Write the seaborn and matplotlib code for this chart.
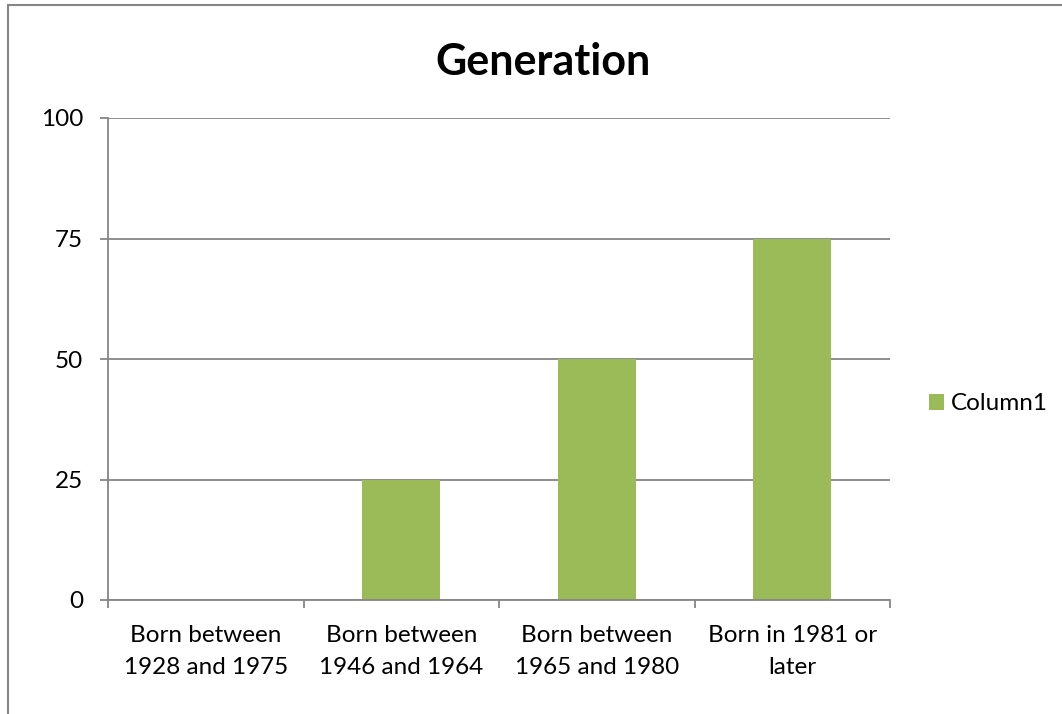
import matplotlib
matplotlib.use("Agg")
import matplotlib.pyplot as plt
import matplotlib.lines as mlines
import seaborn as sns
import pandas as pd

categories = ["Born between\n1928 and 1975", "Born between\n1946 and 1964",
              "Born between\n1965 and 1980", "Born in 1981 or\nlater"]
values = [0, 25, 50, 75]
series_name = "Column1"
y_ticks = [0, 25, 50, 75, 100]
title = "Generation"

sns.set_theme(style="white")
plt.rcParams['font.family'] = ['Lato', 'DejaVu Sans']
plt.rcParams['text.color'] = 'black'
plt.rcParams['xtick.color'] = 'black'
plt.rcParams['ytick.color'] = 'black'

fig = plt.figure(figsize=(10.62, 7.14), dpi=100)
W, H = 1062, 714
ax = fig.add_axes([108 / W, (H - 600) / H, (890 - 108) / W, (600 - 118) / H])

df = pd.DataFrame({"cat": categories, "val": values})
sns.barplot(data=df, x="cat", y="val", color="#9BBB59", width=0.4,
            saturation=1, label=series_name, linewidth=0, edgecolor="none", ax=ax)

grey = "#868686"
fs = 17.5
ax.set_ylim(0, 100)
ax.set_xlim(-0.5, 3.5)
ax.set_yticks(y_ticks)
ax.yaxis.grid(True, color=grey, linewidth=1.3)
ax.set_axisbelow(True)
for s in ["top", "right"]:
    ax.spines[s].set_visible(False)
for s in ["left", "bottom"]:
    ax.spines[s].set_color(grey)
    ax.spines[s].set_linewidth(1.3)
ax.tick_params(axis="y", length=5.8, color=grey, width=1.3, labelsize=fs, pad=12, left=True,
               labelcolor="black")
ax.tick_params(axis="x", which="major", length=0, labelsize=fs, pad=18, labelcolor="black")
ax.set_xticks([-0.5, 0.5, 1.5, 2.5, 3.5], minor=True)
ax.tick_params(axis="x", which="minor", length=5.8, color=grey, width=1.3, bottom=True)
ax.set_xlabel("")
ax.set_ylabel("")
for lbl in ax.get_xticklabels():
    lbl.set_multialignment("center")
    lbl.set_linespacing(1.65)

fig.text(543 / W, 1 - 75 / H, title, ha="center", va="baseline", fontsize=31,
         fontweight="bold", color="black")

leg = ax.legend(loc="center left", bbox_to_anchor=(929 / W, 1 - 404 / H),
                bbox_transform=fig.transFigure, frameon=False, fontsize=fs,
                handlelength=0.62, handleheight=0.62, handletextpad=0.3,
                borderpad=0, borderaxespad=0)
for t in leg.get_texts():
    t.set_color("black")

# chart border
fig.add_artist(mlines.Line2D([8 / W, 1], [1 - 5 / H, 1 - 5 / H], color=grey, linewidth=1.5,
                             transform=fig.transFigure))
fig.add_artist(mlines.Line2D([8 / W, 8 / W], [0, 1 - 5 / H], color=grey, linewidth=1.5,
                             transform=fig.transFigure))

fig.savefig("out.png", dpi=100, facecolor="white")
